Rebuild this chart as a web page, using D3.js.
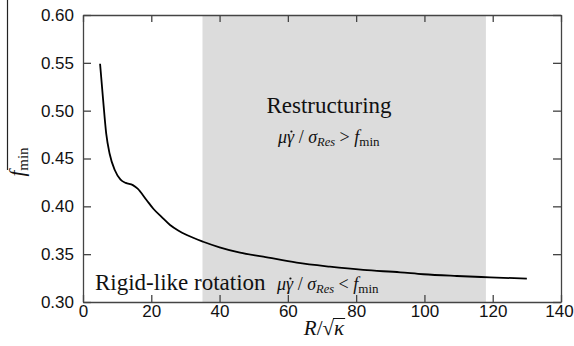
<!DOCTYPE html>
<html>
<head>
<meta charset="utf-8">
<script src="https://cdn.jsdelivr.net/npm/d3@7"></script>
<style>
  html, body { margin: 0; padding: 0; background: #fff; }
  svg { display: block; }
  .tick-label { font-family: "Liberation Sans", Arial, sans-serif; font-size: 17px; fill: #111; }
  .serif { font-family: "Liberation Serif", "Times New Roman", serif; fill: #111; }
</style>
</head>
<body>
<svg id="chart" width="574" height="346"></svg>
<script>
// Normalised size R/sqrt(kappa) and minimum threshold f_min along the curve
const rValues = [5, 5.9, 6.8, 7.8, 9.3, 11, 12.5, 14.6, 16, 18.6, 20.6, 23, 25.5, 28, 30.4, 35.2, 40, 46, 52.8, 62.6, 72.3, 82.1, 92.9, 99.7, 109.5, 119.2, 130];
const fValues = [0.549, 0.511, 0.476, 0.455, 0.438, 0.428, 0.4245, 0.4222, 0.4185, 0.4066, 0.3975, 0.389, 0.3805, 0.3745, 0.370, 0.363, 0.3572, 0.3516, 0.3474, 0.3411, 0.3369, 0.3335, 0.331, 0.329, 0.3272, 0.3258, 0.3244];

// Restructuring band along R/sqrt(kappa)
const bandStart = 35;
const bandEnd = 118;

const xTicks = [0, 20, 40, 60, 80, 100, 120, 140];
const yTicks = [0.30, 0.35, 0.40, 0.45, 0.50, 0.55, 0.60];

const margin = { left: 83, right: 13, top: 15, bottom: 44 };
const W = 574, H = 346;
const svg = d3.select("#chart");

const x = d3.scaleLinear().domain([0, 140]).range([margin.left, W - margin.right]);
const y = d3.scaleLinear().domain([0.30, 0.60]).range([H - margin.bottom, margin.top]);

// shaded restructuring region
svg.append("rect")
  .attr("x", x(bandStart)).attr("y", y(0.60))
  .attr("width", x(bandEnd) - x(bandStart))
  .attr("height", y(0.30) - y(0.60))
  .attr("fill", "#dcdcdc");

// curve
const pts = rValues.map((r, i) => [r, fValues[i]]);
svg.append("path")
  .datum(pts)
  .attr("fill", "none")
  .attr("stroke", "#000")
  .attr("stroke-width", 1.8)
  .attr("d", d3.line().x(d => x(d[0])).y(d => y(d[1])).curve(d3.curveMonotoneX));

// axes with inward ticks on all four sides
const axisColor = "#444";
const axBottom = svg.append("g").attr("transform", `translate(0,${y(0.30)})`)
  .call(d3.axisBottom(x).tickValues(xTicks).tickSizeInner(-7).tickSizeOuter(0).tickPadding(3).tickFormat(d3.format("d")));
const axTop = svg.append("g").attr("transform", `translate(0,${y(0.60)})`)
  .call(d3.axisTop(x).tickValues(xTicks).tickSizeInner(-7).tickSizeOuter(0).tickFormat(""));
const axLeft = svg.append("g").attr("transform", `translate(${x(0)},0)`)
  .call(d3.axisLeft(y).tickValues(yTicks).tickSizeInner(-8).tickSizeOuter(0).tickPadding(9).tickFormat(d3.format(".2f")));
const axRight = svg.append("g").attr("transform", `translate(${x(140)},0)`)
  .call(d3.axisRight(y).tickValues(yTicks).tickSizeInner(-8).tickSizeOuter(0).tickFormat(""));

[axBottom, axTop, axLeft, axRight].forEach(g => {
  g.select(".domain").attr("stroke", axisColor).attr("stroke-width", 1.3);
  g.selectAll(".tick line").attr("stroke", axisColor).attr("stroke-width", 1.3);
  g.selectAll(".tick text").attr("class", "tick-label");
  g.attr("font-family", null).attr("font-size", null);
});
axBottom.selectAll(".tick text").attr("dy", "0.71em")
  .attr("dx", d => d === 140 ? -2 : 0);

// x axis title: R/sqrt(kappa) with a radical bar over kappa
const xt = svg.append("text").attr("class", "serif")
  .attr("x", x(70) + 2).attr("y", 335)
  .attr("text-anchor", "middle").attr("font-size", 21).attr("font-style", "italic");
xt.append("tspan").text("R");
xt.append("tspan").attr("font-style", "normal").text("/√");
xt.append("tspan").text("κ");
{
  const node = xt.node();
  const root = node.getExtentOfChar(2);
  const kap = node.getExtentOfChar(3);
  svg.append("line")
    .attr("x1", root.x + root.width - 1).attr("x2", kap.x + kap.width + 1)
    .attr("y1", root.y + 2.5).attr("y2", root.y + 2.5)
    .attr("stroke", "#111").attr("stroke-width", 1);
}

// y axis title: f_min with overbar
svg.append("line")
  .attr("x1", 7.5).attr("x2", 7.5).attr("y1", 0).attr("y2", 170)
  .attr("stroke", "#222").attr("stroke-width", 1.2);
const yt = svg.append("text").attr("class", "serif")
  .attr("transform", "translate(24,162) rotate(-90)")
  .attr("text-anchor", "middle").attr("font-size", 21);
yt.append("tspan").attr("font-style", "italic").text("f");
yt.append("tspan").attr("font-size", 15).attr("dy", 4).text("min");

// region annotations: mu gamma-dot / sigma_Res  vs  f_min
function ratio(g, xPos, yPos, sign) {
  const t = g.append("text").attr("class", "serif")
    .attr("x", xPos).attr("y", yPos).attr("font-size", 18);
  t.append("tspan").attr("font-style", "italic").text("μγ");
  t.append("tspan").text(" / ");
  t.append("tspan").attr("font-style", "italic").text("σ");
  t.append("tspan").attr("font-style", "italic").attr("font-size", 12.5).attr("dy", 3).text("Res");
  t.append("tspan").attr("dy", -3).text(" " + sign + " ");
  t.append("tspan").attr("font-style", "italic").text("f");
  t.append("tspan").attr("font-size", 13).attr("dy", 3).text("min");
  // rate dot above gamma
  const gam = t.node().getExtentOfChar(1);
  g.append("circle")
    .attr("cx", gam.x + gam.width * 0.62).attr("cy", yPos - 11.5)
    .attr("r", 1.1).attr("fill", "#111");
  return t;
}

svg.append("text").attr("class", "serif")
  .attr("x", 329).attr("y", 113).attr("text-anchor", "middle")
  .attr("font-size", 23).text("Restructuring");
ratio(svg, 278, 143, ">");

svg.append("text").attr("class", "serif")
  .attr("x", 95).attr("y", 290).attr("font-size", 23).text("Rigid-like rotation");
ratio(svg, 277, 290, "<");
</script>
</body>
</html>
